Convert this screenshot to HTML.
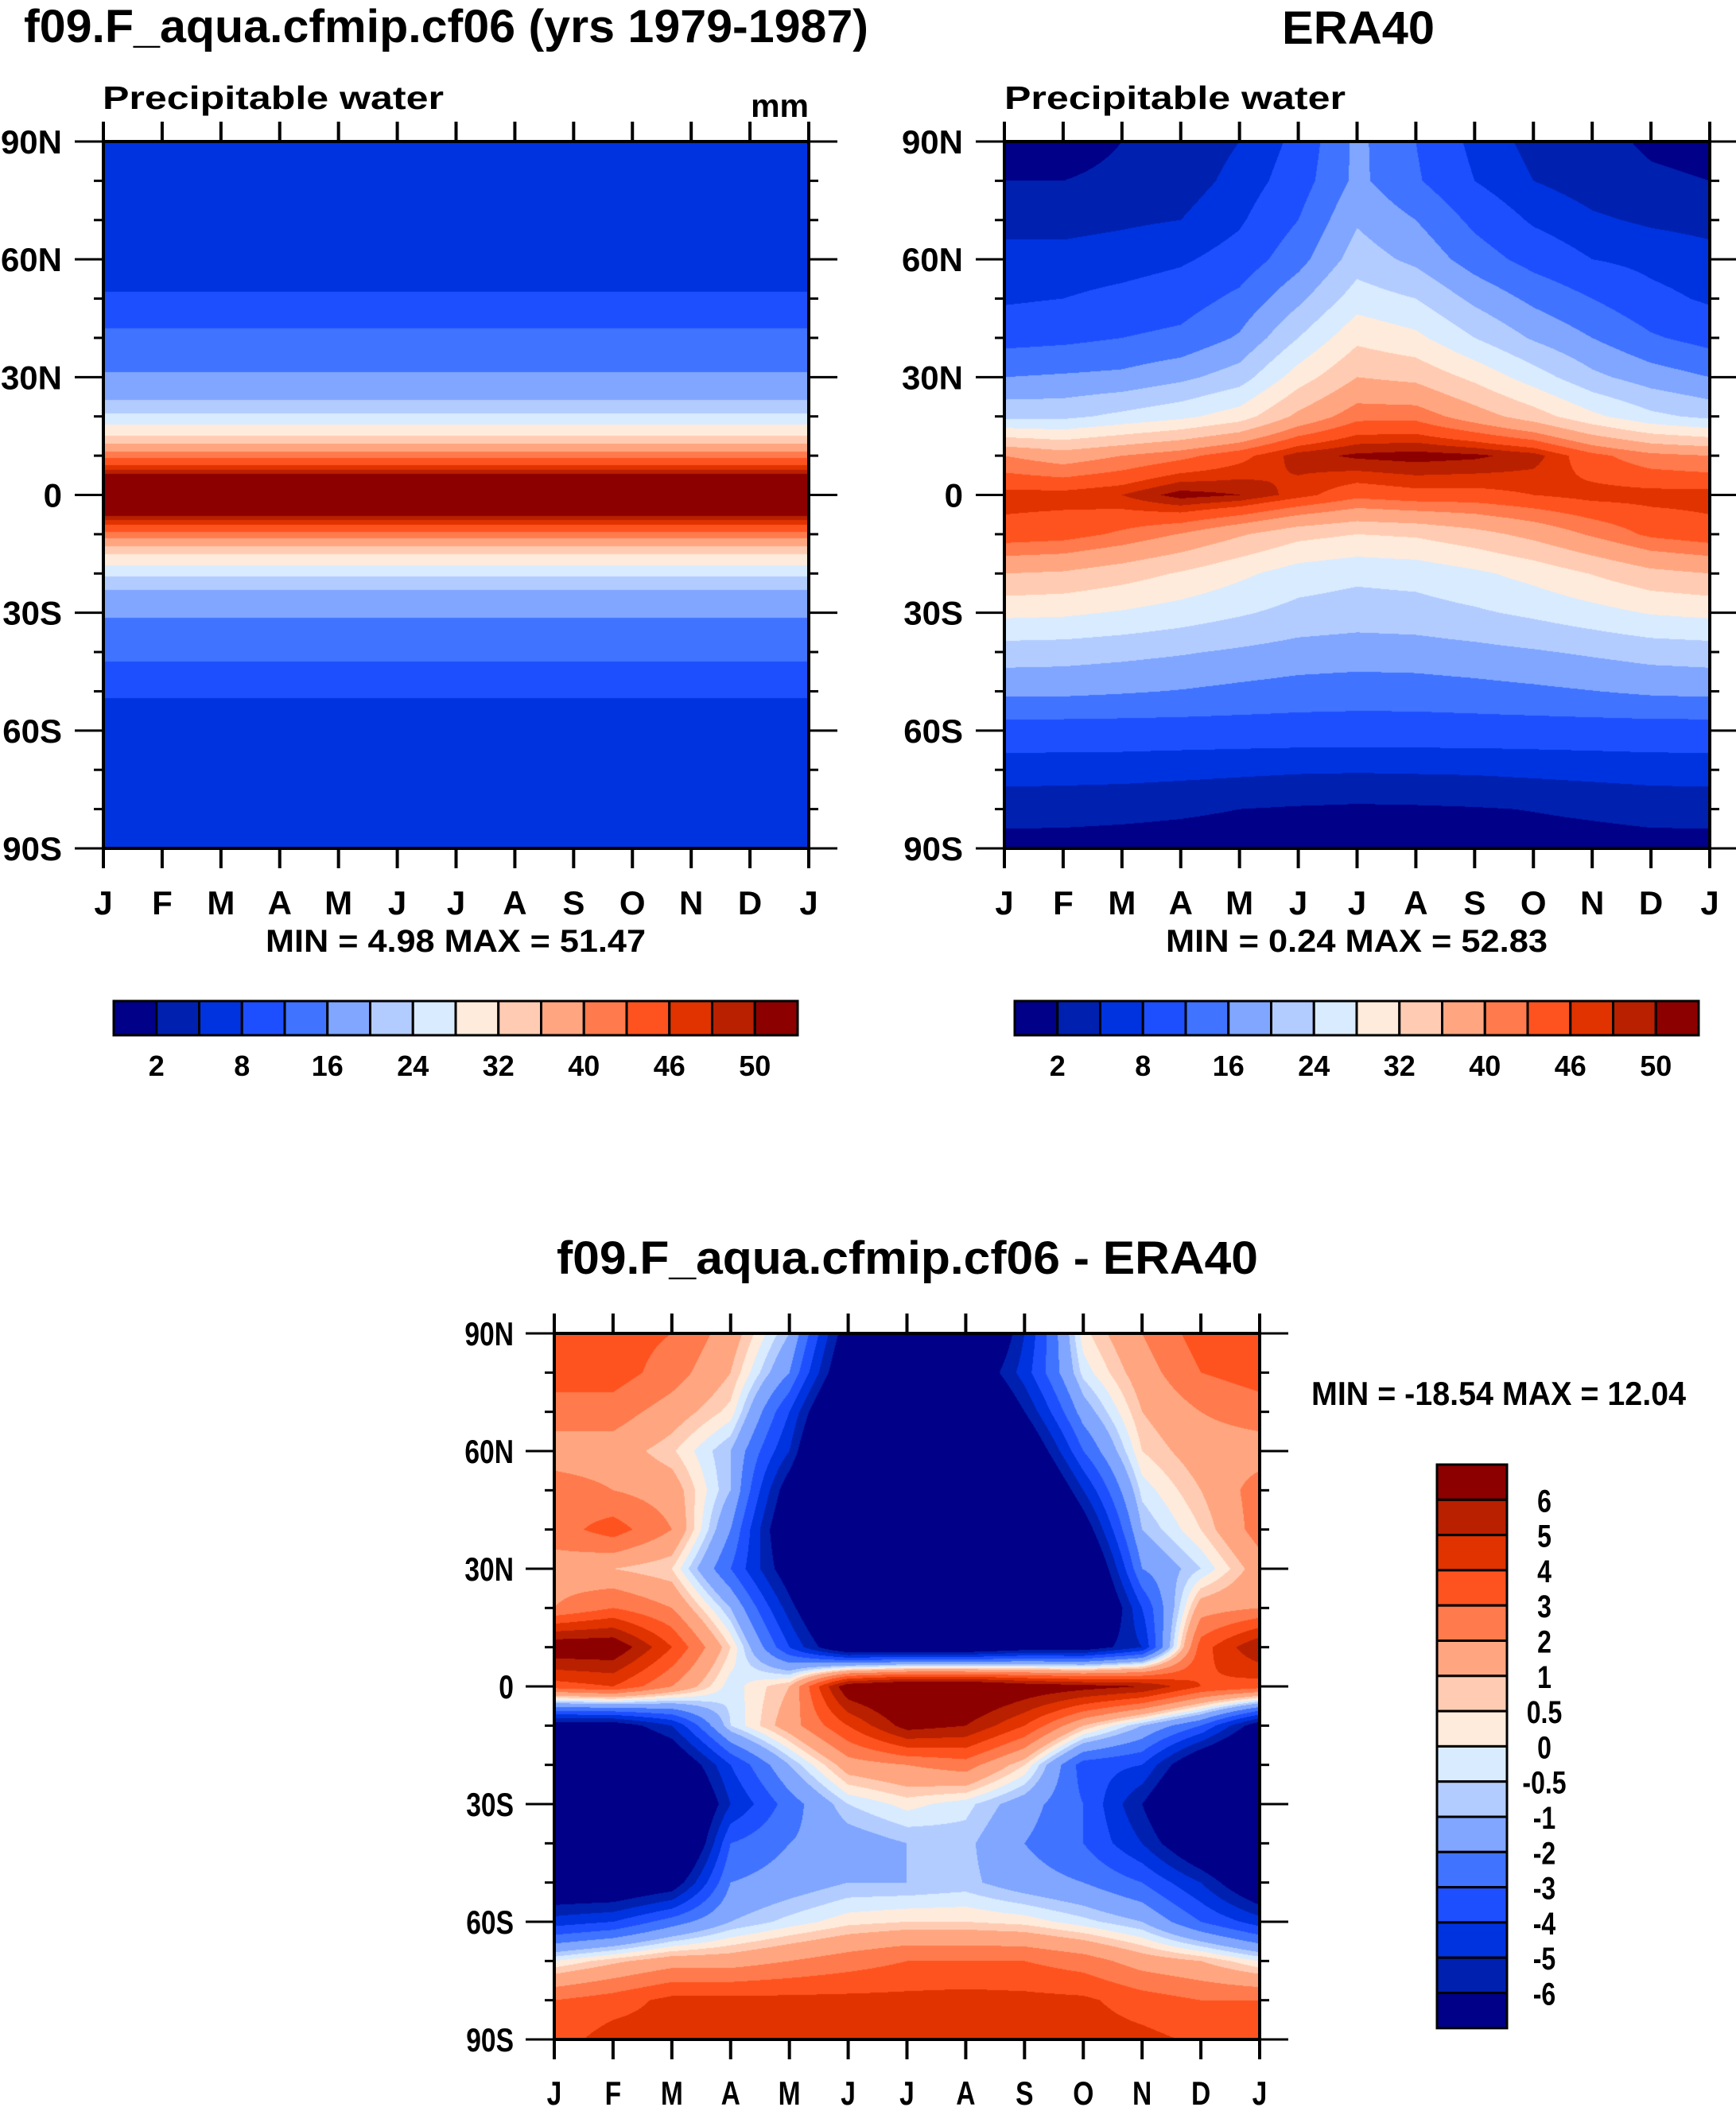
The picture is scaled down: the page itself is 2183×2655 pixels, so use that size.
<!DOCTYPE html>
<html><head><meta charset="utf-8"><style>
html,body{margin:0;padding:0;background:#fff;}
body{position:relative;width:2183px;height:2655px;overflow:hidden;font-family:"Liberation Sans",sans-serif;}
canvas{position:absolute;display:block;}
svg{position:absolute;left:0;top:0;}
text{font-family:"Liberation Sans",sans-serif;font-weight:bold;fill:#000;}
</style></head><body>
<canvas id="c1" width="887" height="889" style="left:130px;top:178px"></canvas>
<canvas id="c2" width="887" height="889" style="left:1263px;top:178px"></canvas>
<canvas id="c3" width="887" height="888" style="left:697px;top:1677px"></canvas>
<svg id="ov" width="2183" height="2655" viewBox="0 0 2183 2655"></svg>
<script>
// ---- data ----
const monthLabels = ['J','F','M','A','M','J','J','A','S','O','N','D','J'];
const latLabels = ['90N','60N','30N','0','30S','60S','90S'];
const lat10 = [90,80,70,60,50,40,30,20,10,0,-10,-20,-30,-40,-50,-60,-70,-80,-90];
const lat5 = [90,85,80,75,70,65,60,55,50,45,40,35,30,25,20,15,10,5,0,-5,-10,-15,-20,-25,-30,-35,-40,-45,-50,-55,-60,-65,-70,-75,-80,-85,-90];
const modelProfile = [5,5.3,5.5,5.8,6,6.3,6.5,7,8.5,11,13,14.5,16.5,19,25,32,42,50.5,51.5,50.5,42,32,25,19,16.5,14.5,13,11,8.5,7,6.5,6.3,6,5.8,5.5,5.3,5];
const eraJan = [1,2,4,6,7.5,10.5,16,23,40,47,45,36,29,22,17,10,6.5,3,1];
const eraFeb = [1,2,4,6,8,11,16.5,23,38,47,44.4,35.5,28.7,21.8,16.9,10,6.4,2.9,1];
const eraMar = [2,2.5,4.5,6.5,9,12,17,25,40,48,42.4,33.8,27.6,21.2,16.4,10,6.3,2.7,0.9];
const eraApr = [3,3.5,5,7.5,10,13,19,27,42,51,39.8,31.6,26.2,20.4,15.8,10,6,2.4,0.8];
const eraMay = [5,6,7.5,9.5,13,16.5,22,30,45,50,36.5,28.9,24.5,19.4,15,10,5.7,2,0.7];
const eraJun = [9,10,12,14.5,19,24,30,37,49,47,33.3,26.1,22.7,18.4,14.3,10,5.4,1.7,0.5];
const eraJul = [17,17,19.5,22,26,31,36,42,50.5,44,32,25,22,18,14,10,5.3,1.5,0.5];
const eraAug = [12,12.5,16,19,24,29,35,42,51,45,32.6,25.5,22.3,18.2,14.1,10,5.4,1.6,0.5];
const eraSep = [7,8,11,14,19,24,31,38,50.5,45,34.6,27.2,23.4,18.8,14.6,10,5.5,1.8,0.6];
const eraOct = [4,5,7.5,10.5,15,19.5,26,34,49,46,37.2,29.4,24.8,19.6,15.2,10,5.8,2.1,0.7];
const eraNov = [3,3.5,5.5,8,12,16,21,29,44,47,40.5,32.2,26.5,20.6,15.9,10,6.1,2.5,0.8];
const eraDec = [1.5,2.5,4.5,7,9,12.5,18,25,41,47,43.7,34.9,28.3,21.6,16.7,10,6.4,2.9,1];
const eraJan2 = [1,2,4,6,7.5,10.5,16,23,40,47,45,36,29,22,17,10,6.5,3,1];
const difJan = [3.5,3.5,2.5,1.5,2.5,2.5,1.5,2,7,3.5,-7,-10,-10,-10,-8,-4.5,0,3,3.5];
const difFeb = [3.5,3.5,2.5,1.5,2,3.5,1,3,7,4,-7,-10,-10,-10,-8,-4,0.8,3.5,4.5];
const difMar = [3,2.5,1.5,0.6,1.5,2,0.5,2,4,2,-5,-8,-10,-10,-7,-2.5,1.5,4.3,4.5];
const difApr = [1.5,1,0.3,-1,-1,-2,-3,-1,0.5,-0.3,-0.5,-4,-5,-3,-2,-1,1.5,4.3,4.5];
const difMay = [-1,-2,-4,-5,-7,-8,-7,-5.5,-4,1,1.5,-1,-2.5,-2,-1.5,-0.3,2,4.3,4.5];
const difJun = [-7,-8,-10,-12,-12,-12,-12,-10,-8,7,4,1.5,-0.5,-1.5,-1,0.3,2.5,4.3,4.5];
const difJul = [-12,-12,-12,-12,-12,-12,-12,-12,-8,8,6.5,2,0.2,-1,-1,0.5,3,4.3,4.5];
const difAug = [-10,-8,-10,-12,-12,-12,-12,-12,-8,8,6,2.5,-0.3,-0.8,-0.8,0.5,3,4.4,5];
const difSep = [-5,-4.5,-6,-8,-10,-12,-12,-12,-7,7,4,0.5,-1.5,-2,-1.5,0.3,3,4.3,4.5];
const difOct = [0.3,-0.3,-1.5,-3,-5,-7,-9,-10,-7,6.5,1,-3.5,-3,-3,-2,-0.3,2.5,4.2,4.5];
const difNov = [2,1.5,1,0.5,-0.3,-1,-2,-4,-5,6,-1,-4,-6,-5,-3,-1,1.5,3.5,4.3];
const difDec = [3.5,3,2,1.5,1,0.5,-0.5,1.5,3.5,4,-3,-8,-10,-8,-5,-3,1,3,3.8];
const difJan2 = [3.5,3.5,2.5,1.5,2.5,2.5,1.5,2,6,3.5,-7,-10,-10,-10,-8,-4.5,0,3,3.5];
const pwLevels = [2,5,8,12,16,20,24,28,32,36,40,43,46,48,50];
const pwTickLabels = ['2','8','16','24','32','40','46','50'];
const difLevels = [-6,-5,-4,-3,-2,-1,-0.5,0,0.5,1,2,3,4,5,6];
const difTickLabels = ['6','5','4','3','2','1','0.5','0','-0.5','-1','-2','-3','-4','-5','-6'];
const eraGrid = [eraJan,eraFeb,eraMar,eraApr,eraMay,eraJun,eraJul,eraAug,eraSep,eraOct,eraNov,eraDec,eraJan2];
const difGrid = [difJan,difFeb,difMar,difApr,difMay,difJun,difJul,difAug,difSep,difOct,difNov,difDec,difJan2];
const palette = ['#000088','#0020b0','#0033e0','#1e4fff','#4073ff','#80a6ff','#b3ccff','#d9ebff','#ffebdb','#ffccb3','#ffa680','#ff7a4d','#ff531f','#e03300','#b82000','#8c0000'];

// ---- helpers ----
function hex(c){return [parseInt(c.substr(1,2),16),parseInt(c.substr(3,2),16),parseInt(c.substr(5,2),16)];}
const pal = palette.map(hex);
function profileVal(lat){
  let j=(90-lat)/5; let i=Math.max(0,Math.min(lat5.length-2,Math.floor(j))); let f=j-i;
  return modelProfile[i]*(1-f)+modelProfile[i+1]*f;
}
function gridVal(g,m,lat){
  let i=Math.max(0,Math.min(11,Math.floor(m))); let fx=m-i;
  let jj=(90-lat)/10; let j=Math.max(0,Math.min(17,Math.floor(jj))); let fy=jj-j;
  const a=g[i][j],b=g[i+1][j],c=g[i][j+1],d=g[i+1][j+1];
  return (a*(1-fx)+b*fx)*(1-fy)+(c*(1-fx)+d*fx)*fy;
}
function drawField(id,fn,levels){
  const cv=document.getElementById(id),ctx=cv.getContext('2d');
  const w=cv.width,h=cv.height,img=ctx.createImageData(w,h);
  for(let py=0;py<h;py++){
    const lat=90-180*(py+0.5)/h;
    for(let px=0;px<w;px++){
      const m=12*(px+0.5)/w, v=fn(m,lat);
      let k=0; while(k<levels.length && v>=levels[k]) k++;
      const c=pal[k],o=(py*w+px)*4;
      img.data[o]=c[0];img.data[o+1]=c[1];img.data[o+2]=c[2];img.data[o+3]=255;
    }
  }
  ctx.putImageData(img,0,0);
}
drawField('c1',(m,lat)=>profileVal(lat),pwLevels);
drawField('c2',(m,lat)=>gridVal(eraGrid,m,lat),pwLevels);
drawField('c3',(m,lat)=>gridVal(difGrid,m,lat),difLevels);

const NS='http://www.w3.org/2000/svg', ov=document.getElementById('ov');
function mk(tag,attrs){const e=document.createElementNS(NS,tag);for(const k in attrs)e.setAttribute(k,attrs[k]);ov.appendChild(e);return e;}
function txt(x,y,s,size,anchor,cond,len){
  const e=mk('text',{x:0,y:0,'font-size':size,'text-anchor':anchor||'start',transform:'translate('+x+','+y+')'+(cond?' scale(0.8,1)':'')});
  if(len){e.setAttribute('textLength',len);e.setAttribute('lengthAdjust','spacingAndGlyphs');}
  e.textContent=s;return e;
}
function axes(x0,y0,w,h,name,cond,labRight,xLabBase,fs){
  const r=mk('rect',{x:x0,y:y0,width:w,height:h,fill:'none',stroke:'#000','stroke-width':4});
  
  
  for(let i=0;i<=12;i++){
    const x=x0+w*i/12;
    const t1=mk('line',{x1:x,x2:x,y1:y0,y2:y0-25,stroke:'#000','stroke-width':4});
    
    
    const t2=mk('line',{x1:x,x2:x,y1:y0+h,y2:y0+h+25,stroke:'#000','stroke-width':4});
    
    
    const l=txt(x,xLabBase,monthLabels[i],fs,'middle',cond);
    
    
  }
  for(let i=0;i<=18;i++){
    const y=y0+h*i/18, major=(i%3===0), len=major?36:12;
    const a=mk('line',{x1:x0,x2:x0-len,y1:y,y2:y,stroke:'#000','stroke-width':3});
    
    
    const b=mk('line',{x1:x0+w,x2:x0+w+len,y1:y,y2:y,stroke:'#000','stroke-width':3});
    
    
    if(major){
      const l=txt(labRight,y+15,latLabels[i/3],fs,'end',cond);
      
      
    }
  }
}
function hbar(x0,y0,w,h,name,labels,lblY){
  const n=palette.length,bw=w/n;
  for(let k=0;k<n;k++){
    const r=mk('rect',{x:x0+k*bw,y:y0,width:bw,height:h,fill:palette[k],stroke:'#000','stroke-width':3});
    
    
  }
  for(let k=0;k<labels.length;k++){
    const l=txt(x0+(2*k+1)*bw,lblY,labels[k],36,'middle');
    
    
  }
}
axes(130,178,887,889,'model-plot',false,78,1150,42);
axes(1263,178,887,889,'era40-plot',false,1211,1150,42);
axes(697,1677,887,888,'diff-plot',true,646,2647,42);

hbar(143,1259,860,43,'model-colorbar',pwTickLabels,1353);
hbar(1276,1259,860,43,'era40-colorbar',pwTickLabels,1353);
(function(){
  const n=palette.length,x0=1807,y0=1842,w=88,bh=44.3;
  for(let k=0;k<n;k++){
    const r=mk('rect',{x:x0,y:y0+k*bh,width:w,height:bh,fill:palette[n-1-k],stroke:'#000','stroke-width':3});
    
    
  }
  for(let k=0;k<difTickLabels.length;k++){
    const l=txt(1942,y0+(k+1)*bh+15,difTickLabels[k],40,'middle',true);
    
    
  }
})();
</script>
<svg width="2183" height="2655" viewBox="0 0 2183 2655" style="position:absolute;left:0;top:0">
<text x="30" y="53" font-size="58" textLength="1062" lengthAdjust="spacingAndGlyphs">f09.F_aqua.cfmip.cf06 (yrs 1979-1987)</text>
<text x="1612" y="55" font-size="58" textLength="192" lengthAdjust="spacingAndGlyphs">ERA40</text>
<text x="129" y="137" font-size="41" textLength="429" lengthAdjust="spacingAndGlyphs">Precipitable water</text>
<text x="1017" y="147" font-size="41" text-anchor="end">mm</text>
<text x="1263" y="137" font-size="41" textLength="429" lengthAdjust="spacingAndGlyphs">Precipitable water</text>
<text x="334" y="1197" font-size="40" textLength="478" lengthAdjust="spacingAndGlyphs">MIN =   4.98 MAX =  51.47</text>
<text x="1466" y="1197" font-size="40" textLength="480" lengthAdjust="spacingAndGlyphs">MIN =   0.24 MAX =  52.83</text>
<text x="700" y="1602" font-size="58" textLength="882" lengthAdjust="spacingAndGlyphs">f09.F_aqua.cfmip.cf06 - ERA40</text>
<text x="1649" y="1767" font-size="42" textLength="471" lengthAdjust="spacingAndGlyphs">MIN = -18.54 MAX =  12.04</text>
</svg>
</body></html>
